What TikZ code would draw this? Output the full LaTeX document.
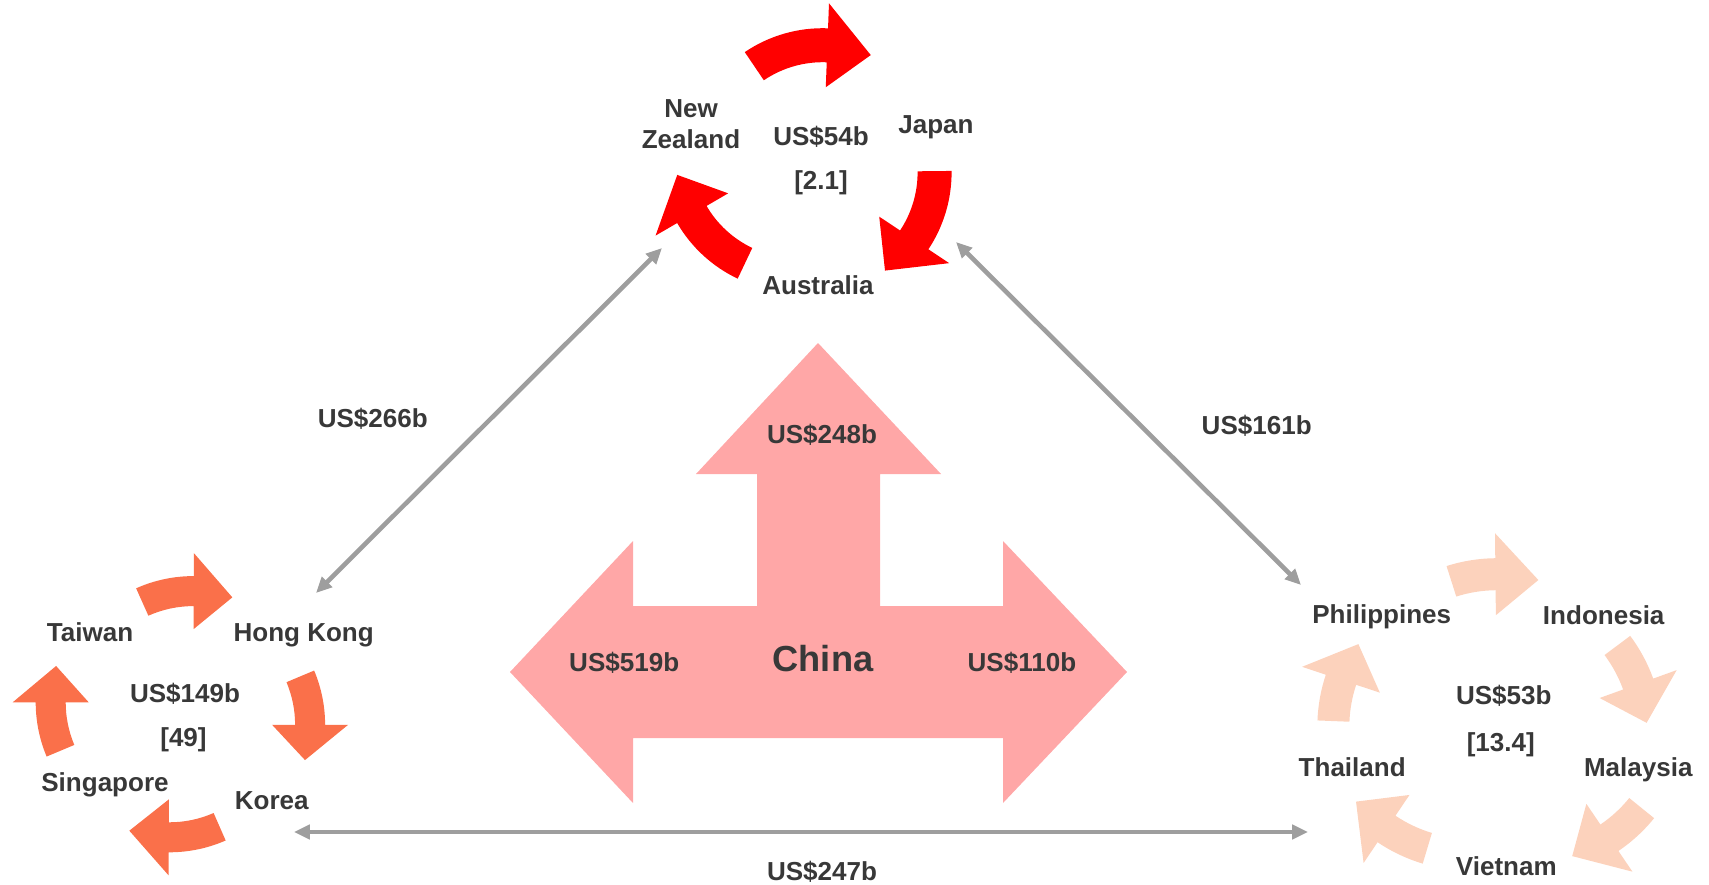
\documentclass[tikz,border=0pt]{standalone}
\usepackage{fontspec}
\setmainfont{Liberation Sans}
\usetikzlibrary{arrows.meta}

\definecolor{anzred}{RGB}{255,0,0}
\definecolor{northorange}{RGB}{250,112,74}
\definecolor{aseanpeach}{RGB}{252,210,188}
\definecolor{chinapink}{RGB}{255,167,167}
\definecolor{linkgray}{RGB}{158,158,158}
\definecolor{txtgray}{RGB}{56,56,56}

\def\bandw{17}
\def\headw{42}
% curved block arrow: style, centre, radius, start, head base, tip
\newcommand{\cyclearrow}[6]{%
    \fill[#1, shift={(#2)}]
      ({#4}:{#3+\bandw}) arc[start angle=#4, end angle=#5, radius={#3+\bandw}]
      -- ({#5}:{#3+\headw}) -- ({#6}:{#3}) -- ({#5}:{#3-\headw})
      -- ({#5}:{#3-\bandw}) arc[start angle=#5, end angle=#4, radius={#3-\bandw}]
      -- cycle;}

\begin{document}
\begin{tikzpicture}[x=0.01cm, y=-0.01cm,
    lbltxt/.style={font=\fontsize{7.4}{8.8}\selectfont\bfseries, text=txtgray, inner sep=0pt, align=center},
    lbl/.style={lbltxt, text height=5.3pt, text depth=0pt},
    big/.style={lbl, font=\fontsize{10.3}{12}\selectfont\bfseries, text height=7.4pt},
    link/.style={linkgray, line width=1.3pt, {Triangle[length=4.5pt,width=4pt]}-{Triangle[length=4.5pt,width=4pt]}},
    anz/.style={fill=anzred},
    north/.style={fill=northorange},
    asean/.style={fill=aseanpeach}]
    \useasboundingbox (0,0) rectangle (1709,885);

    \def\bandw{17}\def\headw{42}
    \cyclearrow{anz}{822.7,167.2}{122}{-124.1}{-87.8}{-66.8}
    \cyclearrow{anz}{812.6,172.4}{122}{-0.6}{33.6}{53.6}
    \cyclearrow{anz}{797.3,153.1}{122}{115.4}{149.8}{169.7}
      \node[lbltxt] (nz) at (691,124.6) {New\\Zealand};
      \node[lbl] (japan) at (936,124) {Japan};
      \node[lbl] (aus) at (818,285.5) {Australia};
      \node[lbl] (anzval) at (821,136.5) {US\$54b};
      \node[lbl] (anzidx) at (821,180) {[2.1]};

    \def\bandw{15}\def\headw{38}
    \cyclearrow{north}{193.3,716.1}{125}{-114.1}{-89.8}{-71.8}
    \cyclearrow{north}{185.1,724.8}{125}{-22.8}{0}{16.4}
    \cyclearrow{north}{169.4,712.3}{125}{66.3}{90.3}{108.7}
    \cyclearrow{north}{175.7,702.3}{125}{157.2}{180}{196.9}
      \node[lbl] (tw) at (90,632) {Taiwan};
      \node[lbl] (hk) at (303.7,631.7) {Hong Kong};
      \node[lbl] (northval) at (185,693.3) {US\$149b};
      \node[lbl] (northidx) at (183.5,737.5) {[49]};
      \node[lbl] (sg) at (105,782) {Singapore};
      \node[lbl] (kr) at (271.7,800) {Korea};

    \def\bandw{16}\def\headw{41}
    \cyclearrow{asean}{1497,724.2}{150}{-107.7}{-90.6}{-74}
    \cyclearrow{asean}{1497.1,735.1}{150}{-36.7}{-19.9}{-4.7}
    \cyclearrow{asean}{1525.1,713.7}{150}{39}{55.8}{71.7}
    \cyclearrow{asean}{1470.4,704.6}{150}{106.7}{124}{139.7}
    \cyclearrow{asean}{1483.3,727.1}{150}{182.3}{198.4}{213.6}
      \node[lbl] (ph) at (1381.7,614.5) {Philippines};
      \node[lbl] (id) at (1603.7,614.8) {Indonesia};
      \node[lbl] (aseanval) at (1503.8,694.8) {US\$53b};
      \node[lbl] (aseanidx) at (1500.8,742.5) {[13.4]};
      \node[lbl] (th) at (1352.2,767.5) {Thailand};
      \node[lbl] (my) at (1638.3,767.5) {Malaysia};
      \node[lbl] (vn) at (1506.3,866.2) {Vietnam};

    \fill[chinapink] (818,343) -- (941,474) -- (880,474) -- (880,606) -- (1003,606)
      -- (1003,541) -- (1127,672) -- (1003,803) -- (1003,738) -- (633,738)
      -- (633,803) -- (510,672) -- (633,541) -- (633,606) -- (757,606)
      -- (757,474) -- (696,474) -- cycle;
      \node[big] (china) at (823,658.3) {China};
      \node[lbl] (chinaup) at (822,434) {US\$248b};
      \node[lbl] (chinaleft) at (624.2,661.7) {US\$519b};
      \node[lbl] (chinaright) at (1021.9,661.7) {US\$110b};

    \coordinate (anzsw) at (662,248);
    \coordinate (northne) at (316,593);
    \coordinate (anzse) at (956,242);
    \coordinate (aseannw) at (1301,585);
    \coordinate (northse) at (294,832);
    \coordinate (aseanw) at (1308,832);
    \draw[link] (anzsw) -- (northne);
      \node[lbl] (nlink) at (372.8,418.6) {US\$266b};
    \draw[link] (anzse) -- (aseannw);
      \node[lbl] (alink) at (1256.7,425) {US\$161b};
    \draw[link] (northse) -- (aseanw);
      \node[lbl] (blink) at (822,871.3) {US\$247b};
\end{tikzpicture}
\end{document}
